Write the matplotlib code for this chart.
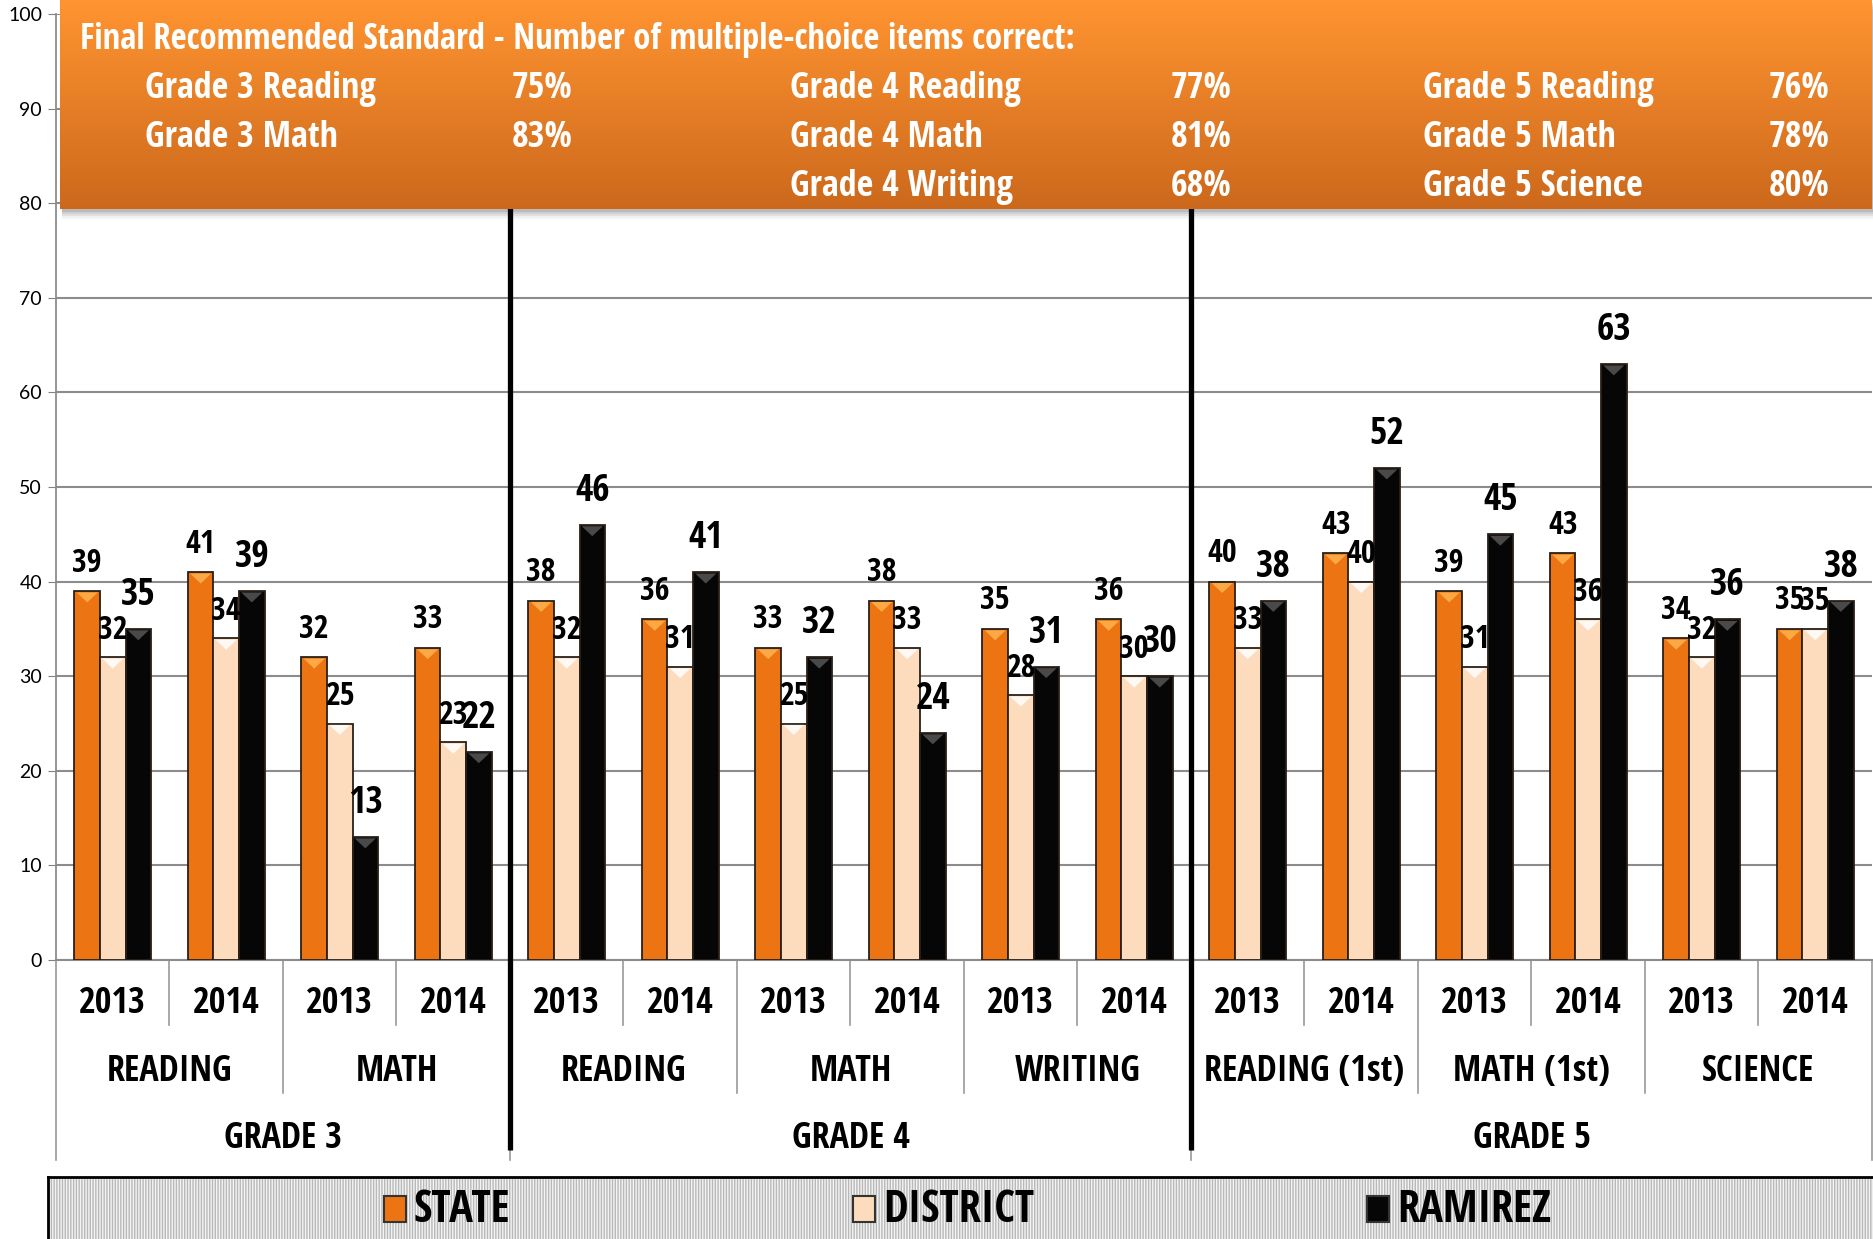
import matplotlib
matplotlib.use('Agg')
import matplotlib.pyplot as plt
import matplotlib.font_manager as fm
import matplotlib.transforms as mtransforms
from matplotlib.patches import Rectangle, Polygon
import numpy as np


# pick a narrow font if there is one (the source uses squeezed Calibri)
names = sorted(set(f.name for f in fm.fontManager.ttflist))
FONT = 'Lato'
for cand in ['Liberation Sans Narrow', 'Open Sans Condensed', 'Roboto Condensed', 'DejaVu Sans Condensed']:
    if cand in names:
        FONT = cand
        break
plt.rcParams['font.family'] = [FONT, 'DejaVu Sans']

years = ['2013', '2014'] * 8
subjects = ['READING', 'MATH', 'READING', 'MATH', 'WRITING', 'READING (1st)', 'MATH (1st)', 'SCIENCE']
subject_span = [2, 2, 2, 2, 2, 2, 2, 2]
grades = ['GRADE 3', 'GRADE 4', 'GRADE 5']
grade_span = [4, 6, 6]

state = [39, 41, 32, 33, 38, 36, 33, 38, 35, 36, 40, 43, 39, 43, 34, 35]
district = [32, 34, 25, 23, 32, 31, 25, 33, 28, 30, 33, 40, 31, 36, 32, 35]
ramirez = [35, 39, 13, 22, 46, 41, 32, 24, 31, 30, 38, 52, 45, 63, 36, 38]

std_title = 'Final Recommended Standard - Number of multiple-choice items correct:'
std_rows = [
    [('Grade 3 Reading', '75%'), ('Grade 4 Reading', '77%'), ('Grade 5 Reading', '76%')],
    [('Grade 3 Math', '83%'), ('Grade 4 Math', '81%'), ('Grade 5 Math', '78%')],
    [None, ('Grade 4 Writing', '68%'), ('Grade 5 Science', '80%')],
]

W, H = 1874, 1239
fig = plt.figure(figsize=(W / 100, H / 100), dpi=100)

# main axes: x 56..1872 px, y 14..960 px from top
ax = fig.add_axes([56 / W, (H - 960) / H, 1816 / W, 946 / H])
x = np.arange(len(years))
bw = 0.225
series = [
    (state, '#ec7412', '#ffb24d', 23, 28),
    (district, '#fddcbd', '#ffffff', 23, 27),
    (ramirez, '#060606', '#555555', 27, 34),
]
for i, (vals, col, hl, fs, off) in enumerate(series):
    bars = ax.bar(x + (i - 1) * bw, vals, bw, color=col, edgecolor='#2a2018', linewidth=1.3, zorder=3)
    for b in bars:
        bx, bh, w = b.get_x(), b.get_height(), b.get_width()
        ax.add_patch(Polygon([(bx + 0.02, bh - 0.15), (bx + w - 0.02, bh - 0.15), (bx + w / 2, bh - 1.2)],
                             closed=True, color=hl, lw=0, zorder=4, alpha=0.85))
        ax.annotate(str(int(bh)), (bx + w / 2, bh), xytext=(0, off * 0.72), textcoords='offset points',
                    ha='center', va='center', fontsize=fs, fontweight='bold', zorder=6)

ax.set_xlim(-0.5, len(years) - 0.5)
ax.set_ylim(0, 100)
ax.set_yticks(range(0, 101, 10))
ax.tick_params(axis='y', labelsize=14, length=6, color='#808080', pad=4)
for lbl in ax.get_yticklabels():
    lbl.set_family(['Lato', 'DejaVu Sans'])
ax.set_xticks([])
ax.grid(axis='y', color='#8c8c8c', lw=1.5, zorder=0)
ax.set_axisbelow(True)
for s in ['top', 'right']:
    ax.spines[s].set_visible(False)
ax.spines['left'].set_color('#8c8c8c')
ax.spines['bottom'].set_color('#8c8c8c')
ax.spines['left'].set_linewidth(1.3)
ax.spines['bottom'].set_linewidth(1.5)

trans = mtransforms.blended_transform_factory(ax.transData, ax.transAxes)
def ay(px):
    return (960 - px) / 946

# category labels
for xi, yr in zip(x, years):
    ax.text(xi, ay(1004), yr, transform=trans, ha='center', va='center', fontsize=26, fontweight='bold')
pos = 0
bounds = {-0.5}
for name, span in zip(subjects, subject_span):
    ax.text(pos + span / 2 - 0.5, ay(1072), name, transform=trans, ha='center', va='center',
            fontsize=26, fontweight='bold')
    pos += span
    bounds.add(pos - 0.5)
pos = 0
gbounds = {-0.5}
for name, span in zip(grades, grade_span):
    ax.text(pos + span / 2 - 0.5, ay(1139), name, transform=trans, ha='center', va='center',
            fontsize=26, fontweight='bold')
    pos += span
    gbounds.add(pos - 0.5)

for k in range(len(years) + 1):
    xb = k - 0.5
    if xb in gbounds:
        y1 = ay(1160)
    elif xb in bounds:
        y1 = ay(1093)
    else:
        y1 = ay(1025)
    ax.plot([xb, xb], [0, y1], transform=trans, color='#9a9a9a', lw=1.2, clip_on=False, zorder=2)

# thick grade dividers
for xb in sorted(gbounds)[1:-1]:
    ax.plot([xb, xb], [ay(1150), ay(205)], transform=trans, color='black', lw=3.8,
            clip_on=False, zorder=7, solid_capstyle='butt')

# shadow + orange standards box
for k, a in enumerate([0.10, 0.08, 0.06, 0.04, 0.02]):
    fig.patches.append(Rectangle(((60 + 2) / W, (H - 209 - 3 - 2 * k) / H), 1812 / W, (209) / H,
                                 transform=fig.transFigure, color='black', alpha=a, lw=0, zorder=8))
bax = fig.add_axes([60 / W, (H - 209) / H, 1812 / W, 209 / H], zorder=10)
grad = np.linspace(0, 1, 256)[:, None]
top = np.array([1.0, 0.58, 0.19])
bot = np.array([0.80, 0.41, 0.11])
img = top[None, None, :] * (1 - grad[:, :, None]) + bot[None, None, :] * grad[:, :, None]
bax.imshow(img, aspect='auto', extent=[0, 1812, 209, 0])
bax.set_xlim(0, 1812)
bax.set_ylim(209, 0)
bax.axis('off')
bax.text(80 - 60, 40, std_title, color='white', fontsize=25, fontweight='bold', va='center', ha='left')
col_x = [(145, 512), (790, 1171), (1423, 1769)]
row_y = [89, 138, 187]
for r, row in enumerate(std_rows):
    for c, item in enumerate(row):
        if item is None:
            continue
        bax.text(col_x[c][0] - 60, row_y[r], item[0], color='white', fontsize=26, fontweight='bold', va='center')
        bax.text(col_x[c][1] - 60, row_y[r], item[1], color='white', fontsize=26, fontweight='bold', va='center')

# legend strip
plt.rcParams['hatch.linewidth'] = 1.0
lax = fig.add_axes([48 / W, 0, (W - 48) / W, (H - 1177) / H], zorder=10)
lax.set_xlim(48, W)
lax.set_ylim(H, 1177)
lax.add_patch(Rectangle((48, 1177), W - 48, H - 1177, facecolor='#f4f4f4', edgecolor='#b8b8b8',
                        hatch='||||||', lw=0))
lax.set_xticks([])
lax.set_yticks([])
for s in lax.spines.values():
    s.set_color('black')
    s.set_linewidth(2)
lax.spines['bottom'].set_visible(False)
lax.spines['right'].set_visible(False)
leg_items = [('STATE', '#ec7412', 384), ('DISTRICT', '#fddcbd', 853), ('RAMIREZ', '#060606', 1367)]
for name, col, lx in leg_items:
    lax.add_patch(Rectangle((lx, 1196), 22, 26, facecolor=col, edgecolor='#333333', lw=1.5, zorder=3))
    lax.text(lx + 30, 1210, name, fontsize=32, fontweight='bold', va='center', ha='left', zorder=4)

fig.savefig('out.png', dpi=100)
